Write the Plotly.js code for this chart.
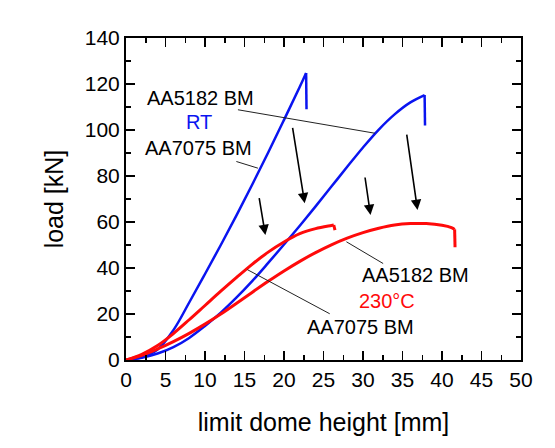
<!DOCTYPE html>
<html><head><meta charset="utf-8">
<script src="https://cdn.plot.ly/plotly-3.0.1.min.js"></script>
<style>html,body{margin:0;padding:0;background:#fff}</style>
</head><body><div id="chart" style="width:555px;height:448px"></div>
<script>
// AA7075 BM, room temperature (last point = fracture drop)
const x7075RT = [0,2,4,6,8,10,12,14,16,18,20,22,22.8,22.85];
const y7075RT = [0,1.2,4.6,13.0,25.0,37.4,50.0,63.0,76.4,90.2,104.4,118.8,124.8,109];
// AA5182 BM, room temperature
const x5182RT = [0,2,4,6,8,10,12,14,16,18,20,22,24,26,28,30,32,34,36,37.8,37.85];
const y5182RT = [0,1.0,2.8,5.6,9.6,14.8,20.6,27.2,34.4,42.2,50.2,58.4,66.8,75.4,84.0,92.4,100.2,106.8,112.0,115.2,102];
// AA7075 BM, 230 °C
const x7075HT = [0,2,4,6,8,10,12,14,16,18,20,22,24,26,26.3,26.45];
const y7075HT = [0,2.5,6.3,11.5,17.5,23.7,29.9,35.9,41.7,46.9,51.3,54.9,57.1,58.5,58.7,56.5];
// AA5182 BM, 230 °C
const x5182HT = [0,2,4,6,8,10,12,14,16,18,20,22,24,26,28,30,32,34,36,38,40,41.2,41.6,41.65];
const y5182HT = [0,2.0,4.8,8.0,11.6,15.6,20.0,24.7,29.5,34.2,38.7,42.9,46.7,50.1,53.0,55.4,57.3,58.7,59.3,59.3,58.6,57.6,56.8,49];

const BLUE = '#0a14f0', RED = '#ff0a0a';
const F = 'Liberation Sans, Arial, sans-serif';

function curve(xs, ys, color, w){
  const n = xs.length;
  return [
    {x:xs.slice(0,n-1), y:ys.slice(0,n-1), mode:'lines', line:{color:color, width:w, shape:'spline', smoothing:1}},
    {x:xs.slice(n-2), y:ys.slice(n-2), mode:'lines', line:{color:color, width:w}}
  ];
}

const traces = [].concat(
  curve(x7075RT, y7075RT, BLUE, 2.5),
  curve(x5182RT, y5182RT, BLUE, 2.5),
  curve(x7075HT, y7075HT, RED, 3),
  curve(x5182HT, y5182HT, RED, 3)
);

function arrow(tx, ty, sx, sy){
  return {x:tx, y:ty, ax:sx, ay:sy, xref:'x', yref:'y', axref:'x', ayref:'y',
    showarrow:true, arrowhead:2, arrowsize:1.3, arrowwidth:1.6, arrowcolor:'#000', text:''};
}
function label(x, y, t, c){
  return {x:x, y:y, xref:'x', yref:'y', text:t, showarrow:false,
    font:{family:F, size:20, color:c||'#000'}};
}
function leader(x0,y0,x1,y1){
  return {type:'line', xref:'x', yref:'y', x0:x0, y0:y0, x1:x1, y1:y1,
    line:{color:'#222', width:1}};
}

const layout = {
  width:555, height:448,
  margin:{l:126, r:34, t:38, b:88},
  paper_bgcolor:'#fff', plot_bgcolor:'#fff',
  showlegend:false,
  font:{family:F, color:'#000'},
  xaxis:{range:[0,50], tickmode:'linear', tick0:0, dtick:5, ticks:'inside', ticklen:9, tickwidth:1.5,
    tickcolor:'#000', showline:true, linewidth:2, linecolor:'#000', mirror:'allticks',
    showgrid:false, zeroline:false, tickfont:{family:F, size:21},
    minor:{dtick:2.5, tick0:0, ticks:'inside', ticklen:5, tickwidth:1.5, tickcolor:'#000', showgrid:false},
    title:{text:'limit dome height [mm]', font:{family:F, size:25}, standoff:23}},
  yaxis:{range:[0,140], tickmode:'linear', tick0:0, dtick:20, ticks:'inside', ticklen:9, tickwidth:1.5,
    tickcolor:'#000', showline:true, linewidth:2, linecolor:'#000', mirror:'allticks',
    showgrid:false, zeroline:false, tickfont:{family:F, size:21},
    minor:{dtick:10, tick0:0, ticks:'inside', ticklen:5, tickwidth:1.5, tickcolor:'#000', showgrid:false},
    title:{text:'load [kN]', font:{family:F, size:25}, standoff:14}},
  shapes:[
    leader(14.17,108.8,31.5,98.6),
    leader(13.97,86.3,16.7,83.4),
    leader(27.9,51.4,32.55,41.95),
    leader(15.36,39.3,25.79,20.1)
  ],
  annotations:[
    label(9.42,113.9,'AA5182 BM'),
    label(9.19,103.4,'RT',BLUE),
    label(9.19,92.1,'AA7075 BM'),
    label(36.6,36.85,'AA5182 BM'),
    label(33.1,25.5,'230°C',RED),
    label(29.7,14.3,'AA7075 BM'),
    arrow(22.62,68.1,21.06,101.6),
    arrow(30.95,63.0,30.23,80.0),
    arrow(36.9,65.2,35.51,98.65),
    arrow(17.64,54.3,16.83,71.0)
  ]
};

Plotly.newPlot('chart', traces, layout, {staticPlot:true, displayModeBar:false});
</script></body></html>
